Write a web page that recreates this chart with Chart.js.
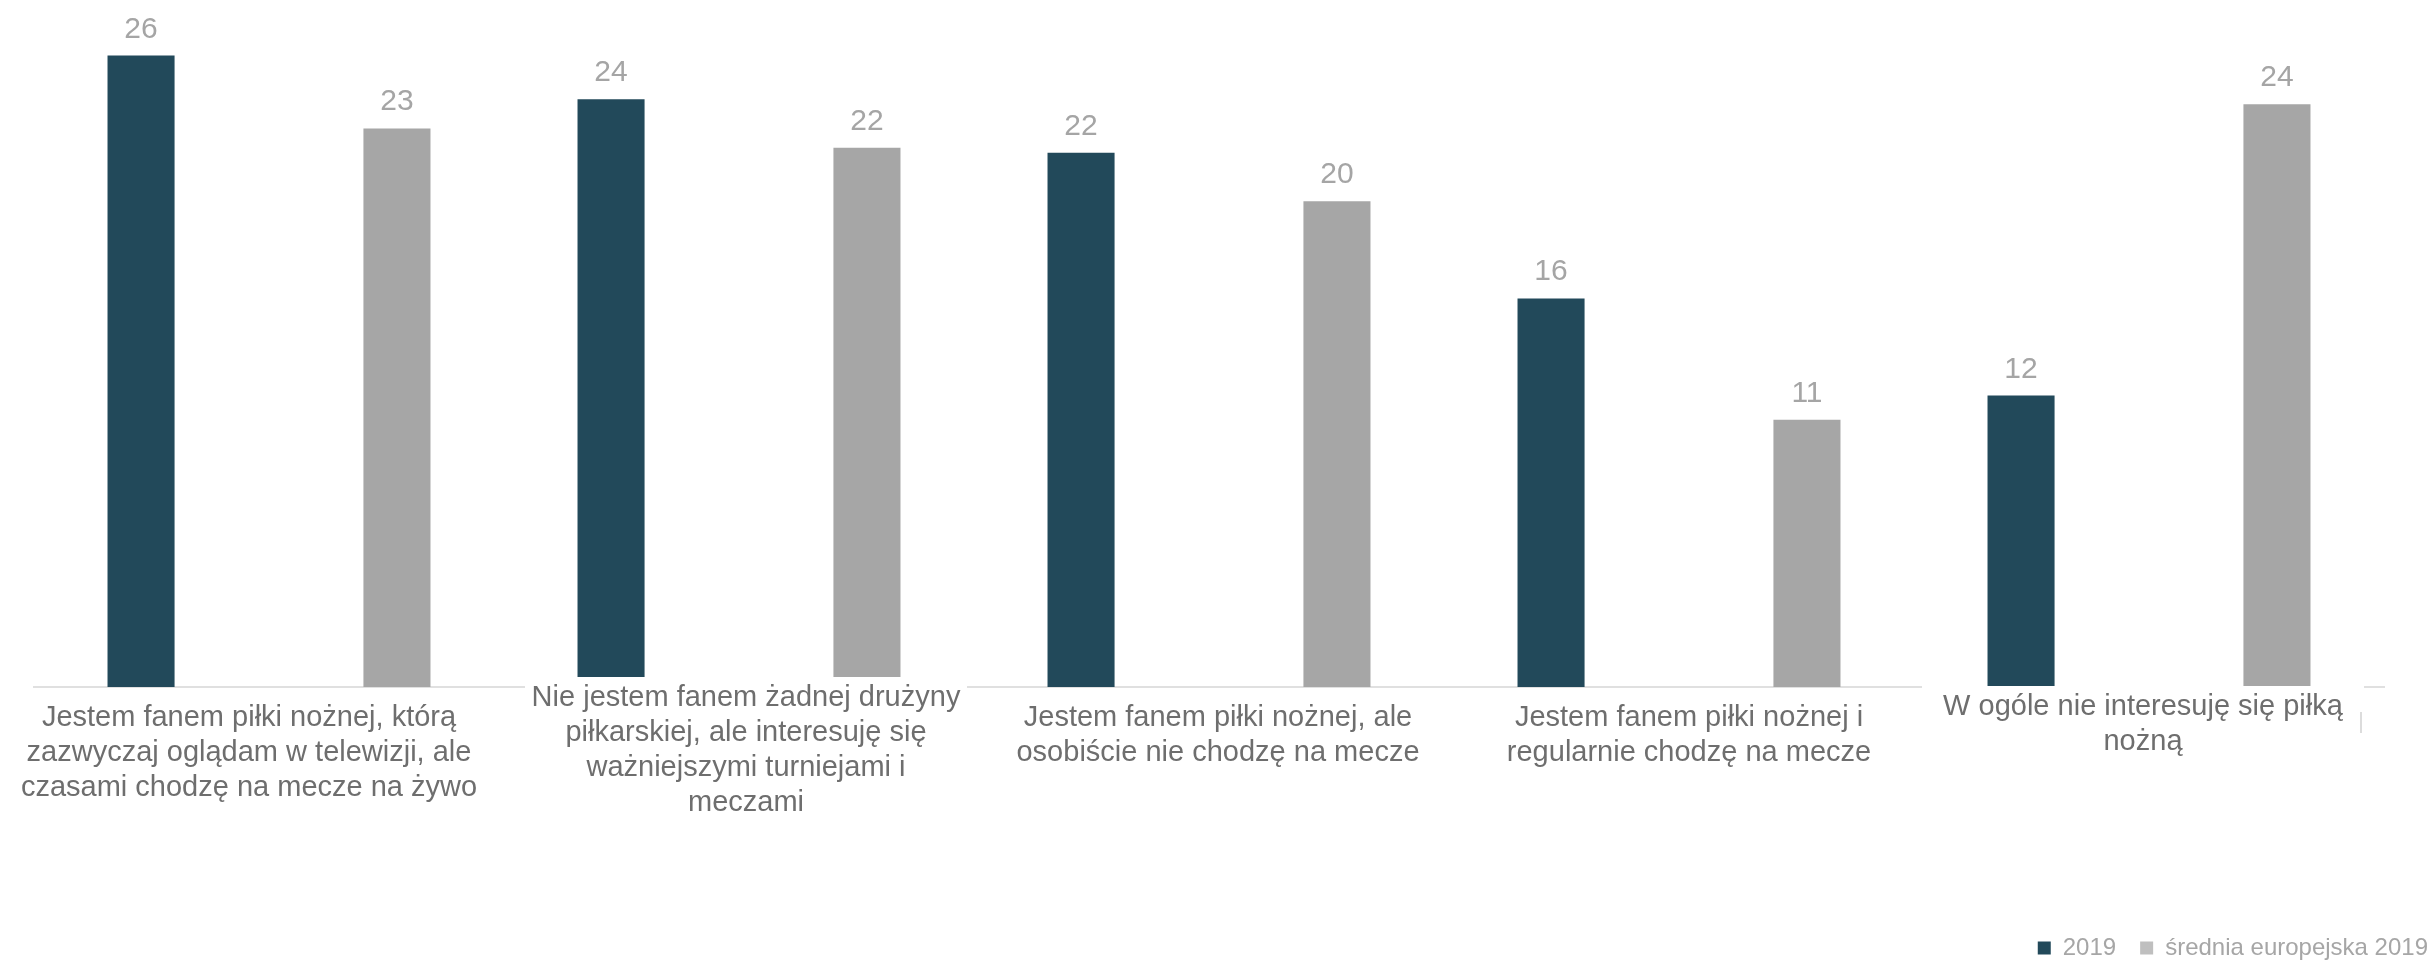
<!DOCTYPE html>
<html>
<head>
<meta charset="utf-8">
<script src="https://cdn.jsdelivr.net/npm/chart.js@4/dist/chart.umd.min.js"></script>
<style>
  body { margin: 0; background: #fff; }
  #wrap { width: 2430px; height: 960px; position: relative; }
</style>
</head>
<body>
<div id="wrap"><canvas id="fans_chart"></canvas></div>
<script>
// categories (line breaks as in the picture)
const categories = [
    ["Jestem fanem piłki nożnej, którą", "zazwyczaj oglądam w telewizji, ale", "czasami chodzę na mecze na żywo"],
    ["Nie jestem fanem żadnej drużyny", "piłkarskiej, ale interesuję się", "ważniejszymi turniejami i", "meczami"],
    ["Jestem fanem piłki nożnej, ale", "osobiście nie chodzę na mecze"],
    ["Jestem fanem piłki nożnej i", "regularnie chodzę na mecze"],
    ["W ogóle nie interesuję się piłką", "nożną"],
];
const seriesNames = ["2019", "średnia europejska 2019"];
const values2019 = [26, 24.2, 22, 16, 12];
const valuesEurope = [23, 22.2, 20, 11, 24];

const DARK = "#22495a";
const GREY = "#a6a6a6";
const FONT = "'Liberation Sans', Arial, sans-serif";

// value labels above the bars
const valueLabels = {
    id: "valueLabels",
    afterDatasetsDraw(chart) {
        const ctx = chart.ctx;
        ctx.save();
        ctx.font = "30px " + FONT;
        ctx.fillStyle = "#a5a5a5";
        ctx.textAlign = "center";
        ctx.textBaseline = "alphabetic";
        chart.data.datasets.forEach((ds, di) => {
            chart.getDatasetMeta(di).data.forEach((bar, i) => {
                ctx.fillText(String(Math.round(ds.data[i])), bar.x, bar.y - 18);
            });
        });
        ctx.restore();
    }
};

// category labels under the axis, each in its own text box
const categoryLabels = {
    id: "categoryLabels",
    afterDraw(chart, args, opts) {
        const ctx = chart.ctx;
        const xScale = chart.scales.x;
        const bottom = chart.chartArea.bottom;
        ctx.save();
        categories.forEach((lines, i) => {
            const cx = xScale.getPixelForValue(i) + opts.dx[i];
            const box = opts.boxes[i];
            if (box !== null) {
                ctx.fillStyle = "#ffffff";
                ctx.fillRect(cx - opts.halfWidth, bottom + box, opts.halfWidth * 2, 160);
            }
            if (i === opts.edgeLine) {
                // stray piece of the text box outline
                ctx.strokeStyle = "#d0d0d0";
                ctx.lineWidth = 1.5;
                ctx.beginPath();
                ctx.moveTo(cx + opts.halfWidth - 3, bottom + 25);
                ctx.lineTo(cx + opts.halfWidth - 3, bottom + 46);
                ctx.stroke();
            }
            ctx.font = "29px " + FONT;
            ctx.fillStyle = "#6e6e6e";
            ctx.textAlign = "center";
            ctx.textBaseline = "alphabetic";
            lines.forEach((line, k) => {
                ctx.fillText(line, cx, bottom + 39 + opts.dy[i] + k * 35);
            });
        });
        ctx.restore();
    }
};

const ctx = document.getElementById("fans_chart");
new Chart(ctx, {
    type: "bar",
    data: {
        labels: categories,
        datasets: [
            { label: seriesNames[0], data: values2019, backgroundColor: DARK },
            { label: seriesNames[1], data: valuesEurope, backgroundColor: GREY },
        ],
    },
    options: {
        responsive: true,
        maintainAspectRatio: false,
        animation: false,
        categoryPercentage: 1.089,
        barPercentage: 0.262,
        layout: { padding: { top: 7, left: 0, right: -22, bottom: -10 } },
        scales: {
            x: {
                grid: { display: false },
                border: { display: true, color: "#e0e0e0", width: 2 },
                ticks: { display: false },
                afterFit(scale) { scale.height = 225; },
            },
            y: {
                min: 0,
                max: 28,
                grid: { display: false },
                border: { display: false },
                ticks: { display: false },
                afterFit(scale) { scale.width = 34; },
            },
            y2: {
                position: "right",
                min: 0,
                max: 28,
                grid: { display: false },
                border: { display: false },
                ticks: { display: false },
                afterFit(scale) { scale.width = 68; },
            },
        },
        plugins: {
            tooltip: { enabled: false },
            legend: {
                position: "bottom",
                align: "end",
                labels: {
                    color: "#a6a6a6",
                    font: { family: FONT, size: 24 },
                    boxWidth: 13,
                    boxHeight: 13,
                    padding: 24,
                    generateLabels(chart) {
                        const items = Chart.defaults.plugins.legend.labels.generateLabels(chart);
                        items.forEach((it, i) => {
                            it.fillStyle = i === 0 ? DARK : "#bfbfbf";
                            it.strokeStyle = it.fillStyle;
                            it.lineWidth = 0;
                        });
                        return items;
                    },
                },
            },
            categoryLabels: {
                dx: [-20, 7, 9, 10, -6],
                dy: [0, -20, 0, 0, -11],
                boxes: [null, -10, null, null, -1],
                halfWidth: 221,
                edgeLine: 4,
            },
        },
    },
    plugins: [valueLabels, categoryLabels],
});
</script>
</body>
</html>
